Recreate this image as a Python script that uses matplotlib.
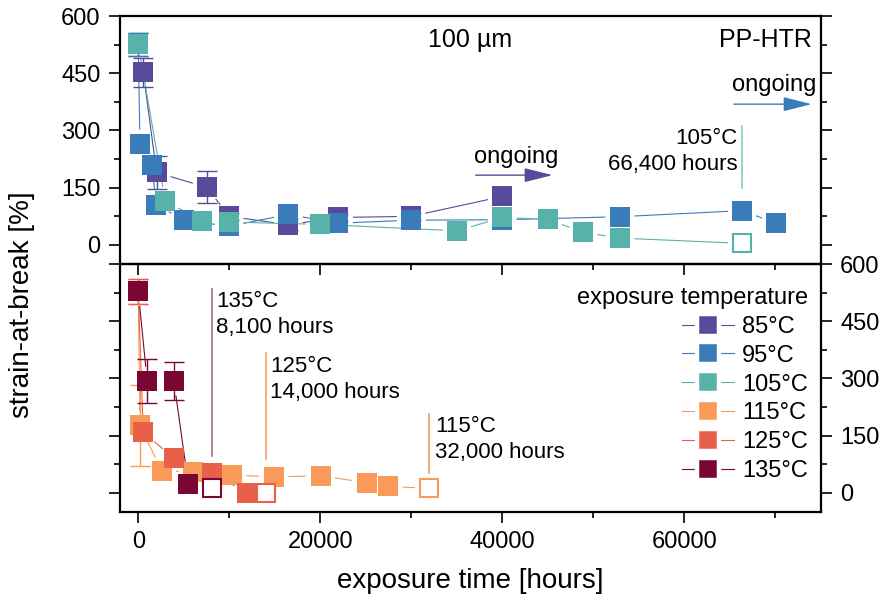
import numpy as np
import matplotlib
matplotlib.use("Agg")
import matplotlib.pyplot as plt
from matplotlib.lines import Line2D
from matplotlib.ticker import MultipleLocator

plt.rcParams['font.family'] = ['Liberation Sans', 'DejaVu Sans']

# ---------------- data ---------------- #
# top panel: 85 / 95 / 105 degC
t85 = [0, 550, 2020, 7520, 10000, 16490, 22000, 30000, 40000]
s85 = [526, 452, 190, 151, 75, 53, 72, 75, 127]
e85 = [30, 39, 44, 42, 10, 14, 10, 10, 0]

t95 = [0, 190, 1540, 1945, 5060, 10000, 16490, 22000, 30000, 40000, 52940, 66400, 70050]
s95 = [526, 264, 209, 105, 65, 49, 80, 57, 65, 66, 74, 90, 57]
e95 = [30, 0, 0, 0, 0, 0, 0, 0, 0, 0, 0, 0, 0]

t105 = [0, 2970, 7030, 10000, 20000, 35060, 40000, 45060, 48900, 52940]
s105 = [526, 115, 63, 60, 54, 37, 72, 67, 33, 18]
e105 = [0, 0, 0, 0, 0, 0, 0, 0, 0, 0]

# bottom panel: 115 / 125 / 135 degC
t115 = [0, 190, 2570, 6045, 10260, 14910, 20040, 25100, 27480]
s115 = [528, 177, 58, 55, 47, 42, 45, 27, 17]
e115 = [33, 107, 0, 0, 0, 0, 0, 0, 0]

t125 = [0, 550, 3920, 8070, 11980]
s125 = [528, 159, 91, 52, 0]
e125 = [33, 0, 0, 0, 0]

t135 = [0, 985, 3920, 5500]
s135 = [528, 293, 293, 23]
e135 = [0, 58, 50, 0]

# last (open symbol) measurement of the ended series
end_time = {'105': 66400, '115': 32000, '125': 14000, '135': 8100}
end_val = {'105': 4, '115': 12, '125': 0, '135': 12}

labels = ['85°C', '95°C', '105°C', '115°C', '125°C', '135°C']
colors = ['#5a4a9b', '#3a7cb9', '#57b3a9', '#f99a58', '#e9604a', '#7a0634']

# ---------------- figure ---------------- #
fig = plt.figure(figsize=(8.82, 6.05), dpi=100)
ax_top = fig.add_axes([0.1361, 0.5636, 0.7944, 0.4099])
ax_bot = fig.add_axes([0.1361, 0.1537, 0.7944, 0.4099])
ax_bot.set_facecolor('none')

for ax in (ax_top, ax_bot):
    ax.set_xlim(-2000, 75000)
    ax.set_ylim(-50, 600)
    ax.xaxis.set_major_locator(MultipleLocator(20000))
    ax.xaxis.set_minor_locator(MultipleLocator(10000))
    ax.yaxis.set_major_locator(MultipleLocator(150))
    ax.yaxis.set_minor_locator(MultipleLocator(75))
    ax.tick_params(which='both', direction='out', width=1.2, labelsize=17,
                   left=True, right=True, top=False, bottom=True, pad=6)
    ax.tick_params(which='major', length=8)
    ax.tick_params(which='minor', length=4)
    for sp in ax.spines.values():
        sp.set_linewidth(1.6)

ax_top.tick_params(labelbottom=False, labelleft=True, labelright=False)
ax_bot.tick_params(labelbottom=True, labelleft=False, labelright=True)

MS = 15
GAP = 15


def gapped_line(ax, x, y, color):
    # connecting line that stops short of the symbols
    pts = ax.transData.transform(np.column_stack([x, y]))
    inv = ax.transData.inverted()
    for (x0, y0), (x1, y1) in zip(pts[:-1], pts[1:]):
        d = np.hypot(x1 - x0, y1 - y0)
        if d <= 2 * GAP:
            continue
        ux, uy = (x1 - x0) / d, (y1 - y0) / d
        seg = inv.transform([(x0 + ux * GAP, y0 + uy * GAP), (x1 - ux * GAP, y1 - uy * GAP)])
        ax.plot(seg[:, 0], seg[:, 1], color=color, lw=0.8, zorder=1)


def draw_series(ax, t, s, e, color, key=None):
    tt, ss = list(t), list(s)
    if key is not None:
        tt.append(end_time[key])
        ss.append(end_val[key])
    gapped_line(ax, tt, ss, color)
    e = np.array(e, dtype=float)
    m = e > 0
    if m.any():
        ax.errorbar(np.array(t)[m], np.array(s)[m], yerr=e[m], fmt='none',
                    ecolor=color, elinewidth=1.0, capsize=7, capthick=1.0, zorder=2)
    ax.plot(t, s, 's', ms=MS, color=color, mec=color, mew=0, zorder=3)
    if key is not None:
        ax.plot([end_time[key]], [end_val[key]], 's', ms=MS - 1.5, mfc='white',
                mec=color, mew=1.5, zorder=3)


draw_series(ax_top, t85, s85, e85, colors[0])
draw_series(ax_top, t95, s95, e95, colors[1])
draw_series(ax_top, t105, s105, e105, colors[2], '105')
draw_series(ax_bot, t115, s115, e115, colors[3], '115')
draw_series(ax_bot, t125, s125, e125, colors[4], '125')
draw_series(ax_bot, t135, s135, e135, colors[5], '135')

# "ongoing" arrows
arrow = dict(arrowstyle='-|>,head_length=0.8,head_width=0.2', mutation_scale=22,
             lw=1.0, shrinkA=0, shrinkB=0)
ax_top.annotate('', xy=(45540, 183), xytext=(37080, 183),
                arrowprops=dict(arrow, color=colors[0]))
ax_top.text(41510, 231, 'ongoing', ha='center', va='center', fontsize=17)
ax_top.annotate('', xy=(74010, 369), xytext=(65470, 369),
                arrowprops=dict(arrow, color=colors[1]))
ax_top.text(69940, 419, 'ongoing', ha='center', va='center', fontsize=17)

# end-of-test markers
ax_top.plot([end_time['105']] * 2, [149, 312], color=colors[2], lw=1.2, alpha=0.7)
ax_top.text(65900, 245, '105°C\n66,400 hours', ha='right', va='center',
            fontsize=16, linespacing=1.3)
ax_bot.plot([end_time['135']] * 2, [97, 534], color=colors[5], lw=1.2, alpha=0.6)
ax_bot.text(8540, 467, '135°C\n8,100 hours', ha='left', va='center',
            fontsize=16, linespacing=1.3)
ax_bot.plot([end_time['125']] * 2, [90, 366], color='#f4a06a', lw=1.2)
ax_bot.text(14470, 298, '125°C\n14,000 hours', ha='left', va='center',
            fontsize=16, linespacing=1.3)
ax_bot.plot([end_time['115']] * 2, [53, 207], color=colors[3], lw=1.2)
ax_bot.text(32600, 140, '115°C\n32,000 hours', ha='left', va='center',
            fontsize=16, linespacing=1.3)

ax_top.text(0.5, 0.903, '100 µm', transform=ax_top.transAxes, ha='center',
            va='center', fontsize=18)
ax_top.text(0.9876, 0.903, 'PP-HTR', transform=ax_top.transAxes, ha='right',
            va='center', fontsize=18)

# legend
handles = [Line2D([], [], color=c, lw=0.8, marker='s', ms=15.2, mfc=c,
                  mec='white', mew=3.2) for c in colors]
leg = fig.legend(handles, labels, title='exposure temperature', loc='upper right',
                 bbox_to_anchor=(808 / 882, 1 - 287 / 605), frameon=False,
                 fontsize=17, title_fontsize=17, handlelength=2.2,
                 handletextpad=0.35, labelspacing=0.29, borderpad=0,
                 borderaxespad=0, alignment='right')

fig.text(22 / 882, 1 - 305 / 605, 'strain-at-break [%]', rotation=90,
         ha='center', va='center', fontsize=20)
fig.text(470 / 882, 1 - 581 / 605, 'exposure time [hours]', ha='center',
         va='center', fontsize=20)

fig.savefig('out.png', dpi=100)
